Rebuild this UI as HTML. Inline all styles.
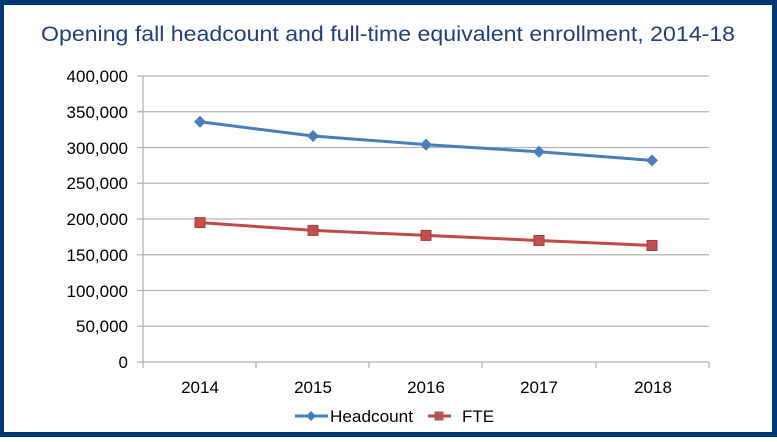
<!DOCTYPE html>
<html><head><style>
html,body{margin:0;padding:0;background:#fff}
</style></head><body>
<svg width="777" height="437" xmlns="http://www.w3.org/2000/svg" font-family="Liberation Sans, Arial, sans-serif">
<rect x="0" y="0" width="777" height="437" fill="#003876"/>
<rect x="4" y="5" width="768" height="427" fill="#fff"/>
<text x="388" y="41" text-anchor="middle" font-size="21" fill="#1f3f7a" textLength="694" lengthAdjust="spacingAndGlyphs">Opening fall headcount and full-time equivalent enrollment, 2014-18</text>
<g stroke="#b3b3b3" stroke-width="1.3">
<line x1="137" y1="76" x2="709" y2="76"/>
<line x1="137" y1="111.75" x2="709" y2="111.75"/>
<line x1="137" y1="147.5" x2="709" y2="147.5"/>
<line x1="137" y1="183.25" x2="709" y2="183.25"/>
<line x1="137" y1="219" x2="709" y2="219"/>
<line x1="137" y1="254.75" x2="709" y2="254.75"/>
<line x1="137" y1="290.5" x2="709" y2="290.5"/>
<line x1="137" y1="326.25" x2="709" y2="326.25"/>
<line x1="137" y1="362" x2="709" y2="362"/>
<line x1="143" y1="76" x2="143" y2="368"/>
<line x1="256" y1="362" x2="256" y2="368"/>
<line x1="369" y1="362" x2="369" y2="368"/>
<line x1="482" y1="362" x2="482" y2="368"/>
<line x1="596" y1="362" x2="596" y2="368"/>
<line x1="709" y1="362" x2="709" y2="368"/>
</g>
<g font-size="17" fill="#000" text-anchor="end">
<text x="128" y="82">400,000</text>
<text x="128" y="118">350,000</text>
<text x="128" y="154">300,000</text>
<text x="128" y="189">250,000</text>
<text x="128" y="225">200,000</text>
<text x="128" y="261">150,000</text>
<text x="128" y="297">100,000</text>
<text x="128" y="332">50,000</text>
<text x="128" y="368">0</text>
</g>
<g font-size="17" fill="#000" text-anchor="middle">
<text x="200" y="393">2014</text>
<text x="313" y="393">2015</text>
<text x="426" y="393">2016</text>
<text x="539" y="393">2017</text>
<text x="653" y="393">2018</text>
</g>
<polyline points="200,121.8 313,136 426,144.6 539,151.8 652,160.4" fill="none" stroke="#4a7ebb" stroke-width="3"/>
<g fill="#4a7ebb">
<polygon points="200,115.8 206,121.8 200,127.8 194,121.8"/>
<polygon points="313,130 319,136 313,142 307,136"/>
<polygon points="426,138.6 432,144.6 426,150.6 420,144.6"/>
<polygon points="539,145.8 545,151.8 539,157.8 533,151.8"/>
<polygon points="652,154.4 658,160.4 652,166.4 646,160.4"/>
</g>
<polyline points="200,222.6 313,230.4 426,235.4 539,240.5 652,245.5" fill="none" stroke="#be4b48" stroke-width="3"/>
<g fill="#c0504d" stroke="#a33e3b" stroke-width="1">
<rect x="195" y="217.6" width="10" height="10"/>
<rect x="308" y="225.4" width="10" height="10"/>
<rect x="421" y="230.4" width="10" height="10"/>
<rect x="534" y="235.5" width="10" height="10"/>
<rect x="647" y="240.5" width="10" height="10"/>
</g>
<line x1="295" y1="416" x2="328" y2="416" stroke="#4a7ebb" stroke-width="3"/>
<polygon points="311,411 316,416 311,421 306,416" fill="#4a7ebb"/>
<text x="330" y="422" font-size="17" fill="#000" textLength="83" lengthAdjust="spacingAndGlyphs">Headcount</text>
<line x1="428" y1="416" x2="451" y2="416" stroke="#be4b48" stroke-width="3"/>
<rect x="434.5" y="411.5" width="9" height="9" fill="#c0504d"/>
<text x="462" y="422" font-size="17" fill="#000">FTE</text>
</svg>
</body></html>
